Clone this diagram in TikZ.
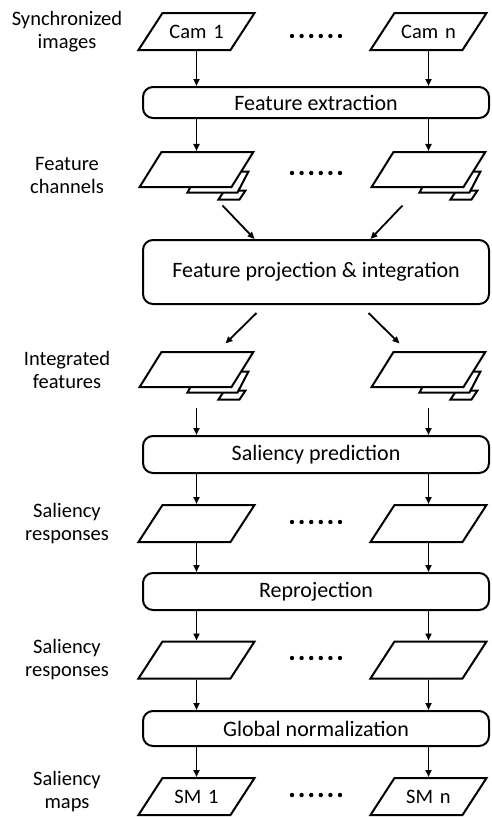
\documentclass[tikz,border=0pt]{standalone}
\usepackage{fontspec}
\setmainfont{Carlito}
\usetikzlibrary{shapes.geometric,arrows.meta,positioning,calc}

\tikzset{
  proc/.style={draw, rectangle, rounded corners=10pt, line width=2pt, minimum width=346pt, font=\fontsize{22}{26}\selectfont},
  io/.style={draw, trapezium, trapezium left angle=57, trapezium right angle=123, inner sep=0pt, text width=68pt, align=center, text height=25pt, text depth=12pt, line width=2pt, fill=white, font=\fontsize{20.5}{24}\selectfont},
  chan/.style={io, trapezium left angle=58, trapezium right angle=122, text width=70pt, text height=23pt, text depth=12pt},
  layer/.style={draw, line width=2pt, fill=white},
  lbl/.style={align=center, font=\fontsize{20.5}{23}\selectfont},
  arr/.style={-{Triangle[length=7pt,width=6pt]}, line width=1.8pt},
}

% stacked feature maps: name, position
\newcommand{\featstack}[2]{%
  \begin{scope}[shift={#2}]
    \draw[layer] (28,21) -- (49,21) -- (43,30) -- (22,30) -- cycle;
    \draw[layer] (2,2) -- (52,2) -- (41,23) -- (-9,23) -- cycle;
  \end{scope}
  \node[chan] (#1) at #2 {};
}

\begin{document}
\begin{tikzpicture}[x=1pt, y=-1pt]
    \useasboundingbox (0,0) rectangle (491,817);
    \coordinate (lx) at (67,0);

    % cameras
    \node[io] (cam1) at (196.5,31.5) {Cam 1};
    \node[io] (camn) at (428.5,31.5) {Cam n};
    \node[proc, minimum height=31pt] (fe) at (316,102.5) {Feature extraction};

    % feature channels
    \featstack{f1}{(196.5,169.5)}
    \featstack{fn}{(428.5,169.5)}
    \node[proc, minimum height=64pt] (fp) at (316,272) {Feature projection \& integration};

    % integrated features
    \featstack{g1}{(196.5,369.5)}
    \featstack{gn}{(428.5,369.5)}
    \node[proc, minimum height=37pt] (sp) at (316,454.5) {Saliency prediction};

    \node[io] (s1) at (196.5,523.5) {};
    \node[io] (sn) at (428.5,523.5) {};
    \node[proc, minimum height=37pt] (rp) at (316,591.5) {Reprojection};

    \node[io] (r1) at (196.5,660) {};
    \node[io] (rn) at (428.5,660) {};
    \node[proc, minimum height=35pt] (norm) at (316,728.5) {Global normalization};

    \node[io] (sm1) at (196.5,796.5) {SM 1};
    \node[io] (smn) at (428.5,796.5) {SM n};

    % row labels
    \node[lbl] (lsync) at (lx |- cam1) {Synchronized\\images};
    \node[lbl] (lchan) at ($(lx |- f1)+(0,6)$) {Feature\\channels};
    \node[lbl] (lint) at (lx |- g1) {Integrated\\features};
    \node[lbl] (lresp) at (lx |- s1) {Saliency\\responses};
    \node[lbl] (lrep) at (lx |- r1) {Saliency\\responses};
    \node[lbl] (lmap) at ($(lx |- sm1)+(0,-5)$) {Saliency\\maps};

    % dots between the two columns
    \foreach \y in {36,173,522,658,795}
        \foreach \k in {0,...,5}
            \fill (292+9.6*\k,\y) circle (2.2);

    \draw[arr] (cam1.south) -- (cam1.south |- fe.north);
    \draw[arr] (camn.south) -- (camn.south |- fe.north);
    \draw[arr] (f1 |- fe.south) -- (f1.north);
    \draw[arr] (fn |- fe.south) -- (fn.north);

    \draw[arr] ($(f1)+(26,36)$) -- ($(f1 |- fp.north)+(58,0)$);
    \draw[arr] ($(fn)+(-26,36)$) -- ($(fn |- fp.north)+(-58,0)$);
    \draw[arr] ($(g1 |- fp.south)+(60,8)$) -- ($(g1)+(29,-26)$);
    \draw[arr] ($(gn |- fp.south)+(-60,8)$) -- ($(gn)+(-29,-26)$);

    \draw[arr] ($(g1)+(0,38)$) -- (g1 |- sp.north);
    \draw[arr] ($(gn)+(0,38)$) -- (gn |- sp.north);
    \draw[arr] (s1 |- sp.south) -- (s1.north);
    \draw[arr] (sn |- sp.south) -- (sn.north);
    \draw[arr] (s1.south) -- (s1.south |- rp.north);
    \draw[arr] (sn.south) -- (sn.south |- rp.north);
    \draw[arr] (r1 |- rp.south) -- (r1.north);
    \draw[arr] (rn |- rp.south) -- (rn.north);
    \draw[arr] (r1.south) -- (r1.south |- norm.north);
    \draw[arr] (rn.south) -- (rn.south |- norm.north);
    \draw[arr] (sm1 |- norm.south) -- (sm1.north);
    \draw[arr] (smn |- norm.south) -- (smn.north);
\end{tikzpicture}
\end{document}
